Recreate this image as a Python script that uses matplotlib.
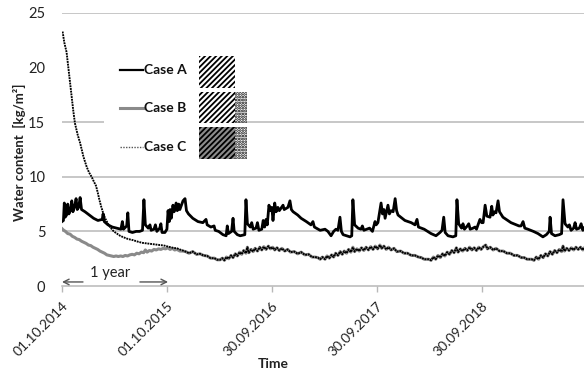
import matplotlib
matplotlib.use("Agg")
import matplotlib.pyplot as plt
from matplotlib.patches import Rectangle
from matplotlib.lines import Line2D
import datetime as dt

plt.rcParams['font.family'] = ['Lato', 'DejaVu Sans']
plt.rcParams['hatch.linewidth'] = 1.3

start_date = dt.date(2014, 10, 1)

# ---- Case A (days since 01.10.2014, water content kg/m2)
a_days = [0, 5, 8, 11, 16, 20, 24, 30, 34, 38, 44, 49, 53, 58, 63, 68, 80, 95, 110, 125, 140, 143, 147,
          160, 175, 190, 205, 210, 214, 225, 229, 233, 245, 258, 270, 280, 285, 290, 300, 306, 310, 320,
          325, 330, 340, 344, 348, 358, 365,
          369, 373, 376, 380, 386, 390, 397, 401, 406, 410, 414, 421, 428, 433, 440, 455, 473, 490, 501,
          505, 518, 529, 533, 545, 560, 571, 575, 579, 590, 595, 599, 610, 620, 636, 640, 645, 655, 660,
          665, 675, 680, 685, 695, 700, 705, 710, 714, 720, 725, 730,
          734, 740, 745, 751, 756, 769, 773, 786, 793, 798, 804, 820, 832, 850, 866, 873, 878, 898, 915,
          925, 936, 945, 953, 960, 967, 972, 978, 990, 1002, 1008, 1012, 1018, 1030, 1040, 1045, 1050,
          1060, 1070, 1080, 1089, 1093,
          1099, 1110, 1115, 1120, 1124, 1134, 1139, 1145, 1152, 1159, 1164, 1169, 1193, 1215, 1228, 1235,
          1240, 1260, 1284, 1301, 1315, 1322, 1328, 1333, 1343, 1360, 1370, 1374, 1380, 1390, 1395, 1400,
          1410, 1415, 1420, 1430, 1437, 1442, 1454, 1460,
          1465, 1472, 1478, 1489, 1495, 1499, 1505, 1510, 1517, 1522, 1534, 1562, 1590, 1597, 1604, 1610,
          1621, 1640, 1656, 1673, 1685, 1695, 1698, 1703, 1715, 1730, 1738, 1743, 1750, 1760, 1765, 1771,
          1780, 1785, 1790, 1800, 1806, 1812, 1816]
a_vals = [5.9, 6.0, 7.6, 6.3, 6.5, 7.5, 6.6, 7.0, 7.8, 6.8, 7.3, 8.0, 7.0, 7.2, 8.1, 7.0, 6.8, 6.5, 6.2, 6.0, 6.1, 6.6, 5.9,
          5.6, 5.4, 5.3, 5.2, 5.9, 5.2, 5.5, 6.7, 5.0, 4.9, 5.0, 5.0, 5.1, 7.9, 5.6, 5.3, 5.6, 5.1, 5.2,
          5.6, 5.0, 5.3, 5.7, 4.9, 4.9, 5.2,
          6.9, 5.9, 7.0, 6.2, 7.4, 6.8, 7.6, 6.9, 7.5, 7.0, 7.3, 7.8, 8.0, 6.9, 6.6, 6.2, 5.9, 5.8, 6.1,
          5.6, 5.4, 5.5, 5.1, 5.0, 4.7, 4.6, 5.5, 4.8, 5.0, 6.2, 5.0, 4.7, 4.6, 4.7, 7.9, 5.7, 5.4, 5.8,
          5.2, 5.3, 5.8, 5.1, 5.2, 6.0, 5.4, 6.1, 5.6, 7.4, 6.9, 7.2,
          6.0, 7.6, 6.8, 7.2, 6.9, 7.4, 7.0, 7.2, 7.8, 7.0, 6.8, 6.5, 6.2, 5.9, 5.6, 5.9, 5.4, 5.1, 5.2,
          5.0, 4.6, 5.0, 5.2, 5.1, 6.3, 5.0, 4.7, 4.6, 4.5, 4.6, 7.9, 5.6, 5.3, 5.2, 5.5, 5.1,
          5.2, 5.3, 5.0, 5.9, 5.6,
          5.8, 7.6, 6.6, 7.0, 6.2, 7.4, 6.6, 6.9, 6.8, 8.0, 6.9, 6.5, 6.0, 5.8, 5.6, 6.1,
          5.4, 5.2, 4.8, 4.6, 4.9, 5.1, 6.3, 4.9, 4.6, 4.5, 4.6, 7.9, 5.7, 5.3, 5.7, 5.2,
          5.5, 5.7, 5.2, 5.3, 5.4, 5.2, 6.1, 5.8,
          5.8, 7.4, 6.4, 6.3, 7.3, 6.5, 6.8, 6.7, 7.8, 6.8, 6.3, 5.8, 5.5, 5.5, 5.9, 5.3,
          5.2, 5.0, 4.8, 4.5, 4.7, 5.0, 6.3, 4.8, 4.6, 4.7, 4.8, 7.9, 5.7, 5.4, 5.6, 5.1,
          5.3, 5.8, 5.2, 5.3, 5.7, 5.1, 5.3]

# ---- Case B, first year (before it joins Case C)
b_early_days = [0, 6, 12, 20, 28, 36, 44, 52, 60, 68, 76, 84, 92, 100, 108, 116, 124, 132, 140, 148, 156,
                164, 172, 180, 188, 196, 204, 212, 220, 228, 236, 244, 252, 260, 268, 276, 284, 290, 296,
                304, 312, 320, 328, 336, 344, 352, 360, 368, 376, 384, 392, 400, 410, 420]
b_early_vals = [5.25, 5.1, 5.0, 4.8, 4.75, 4.55, 4.45, 4.3, 4.25, 4.1, 4.0, 3.9, 3.75, 3.7, 3.55, 3.45, 3.35,
                3.2, 3.1, 3.0, 2.85, 2.8, 2.75, 2.7, 2.75, 2.7, 2.75, 2.7, 2.8, 2.75, 2.85, 2.9, 2.85, 3.0,
                2.95, 3.1, 3.05, 3.3, 3.1, 3.25, 3.2, 3.35, 3.3, 3.4, 3.35, 3.45, 3.4, 3.5, 3.35, 3.45, 3.3,
                3.35, 3.2, 3.2]

# ---- Case C, drying phase
c_early_days = [2, 8, 16, 28, 39, 45, 55, 63, 75, 86, 94, 103, 112, 118, 124, 130, 136, 143, 150, 158, 167,
                180, 202, 215, 230, 247, 265, 280, 296, 312, 326, 341, 356, 370, 386, 400, 415]
c_early_vals = [23.3, 22.3, 21.4, 18.6, 16.1, 14.9, 13.8, 13.1, 11.8, 10.9, 10.4, 10.0, 9.5, 9.2, 8.6, 7.9,
                7.3, 6.7, 6.2, 5.8, 5.4, 5.0, 4.6, 4.45, 4.3, 4.2, 4.05, 3.95, 3.9, 3.85, 3.8, 3.75, 3.7,
                3.6, 3.5, 3.45, 3.3]

# ---- Cases B and C after they coincide
bc_days = [430, 442, 455, 468, 480, 492, 505, 517, 530, 540, 550, 558, 565, 572, 580, 588, 595, 603, 610,
           618, 625, 632, 640, 645, 650, 658, 665, 672, 680, 688, 695, 702, 710, 718, 725, 733, 740, 748,
           756, 765, 775, 785, 795, 808, 820, 832, 845, 858, 870, 880, 890, 898, 906, 915, 922, 930, 938,
           945, 952, 960, 968, 975, 982, 990, 997, 1005, 1012, 1018, 1026, 1034, 1042, 1050, 1058, 1066,
           1074, 1082, 1090, 1098, 1106, 1112, 1120, 1128, 1136, 1145, 1155, 1165, 1178, 1190, 1202, 1215,
           1228, 1240, 1250, 1260, 1268, 1276, 1284, 1292, 1300, 1308, 1316, 1324, 1332, 1340, 1348, 1356,
           1364, 1372, 1378, 1386, 1394, 1402, 1410, 1418, 1426, 1434, 1442, 1450, 1458, 1466, 1474, 1480,
           1490, 1500, 1510, 1522, 1535, 1548, 1560, 1572, 1585, 1598, 1608, 1618, 1626, 1634, 1642, 1650,
           1658, 1666, 1674, 1682, 1690, 1698, 1706, 1714, 1722, 1730, 1738, 1743, 1748, 1756, 1764, 1772,
           1780, 1788, 1796, 1804, 1812, 1816]
bc_vals = [3.15, 3.0, 3.15, 2.9, 2.95, 2.8, 2.75, 2.55, 2.55, 2.4, 2.4, 2.55, 2.35, 2.65, 2.5, 2.8, 2.6,
           2.95, 2.75, 3.1, 2.9, 3.25, 3.0, 3.55, 3.05, 3.35, 3.15, 3.45, 3.2, 3.55, 3.3, 3.6, 3.35, 3.65, 3.4,
           3.55, 3.3, 3.5, 3.25, 3.45, 3.2, 3.35, 3.1, 3.15, 2.95, 3.1, 2.85, 2.9, 2.65, 2.65, 2.6, 2.45, 2.65,
           2.45, 2.75, 2.55, 2.85, 2.65, 3.0, 2.8, 3.15, 2.9, 3.2, 3.0, 3.35, 3.1, 3.55, 3.15, 3.4, 3.2, 3.5,
           3.25, 3.55, 3.3, 3.6, 3.35, 3.65, 3.4, 3.75, 3.45, 3.65, 3.35, 3.55, 3.3, 3.45, 3.15, 3.2, 3.0, 3.0,
           2.8, 2.8, 2.65, 2.6, 2.45, 2.45, 2.45, 2.35, 2.65, 2.45, 2.8, 2.6, 2.95, 2.75, 3.1, 2.9, 3.25, 3.05,
           3.5, 3.1, 3.4, 3.2, 3.45, 3.25, 3.55, 3.3, 3.5, 3.25, 3.55, 3.35, 3.6, 3.75, 3.4, 3.55, 3.3,
           3.45, 3.2, 3.2, 3.0, 3.0, 2.8, 2.8, 2.6, 2.6, 2.45, 2.45, 2.45, 2.35, 2.65, 2.45, 2.8, 2.6,
           2.95, 2.75, 3.15, 2.9, 3.25, 3.05, 3.35, 3.15, 3.65, 3.2, 3.45, 3.25, 3.5, 3.3, 3.55, 3.35, 3.55, 3.3,
           3.45]

b_days = b_early_days + bc_days
b_vals = b_early_vals + bc_vals
c_days = c_early_days + bc_days
c_vals = c_early_vals + bc_vals

tick_labels = ["01.10.2014", "01.10.2015", "30.09.2016", "30.09.2017", "30.09.2018"]
tick_days = [0, 365, 730, 1095, 1460]
y_ticks = [0, 5, 10, 15, 20, 25]
grid_levels = [5, 10, 15, 25]
legend_labels = ["Case A", "Case B", "Case C"]


def to_dates(days):
    return [start_date + dt.timedelta(days=d) for d in days]


W, H = 584, 373
fig = plt.figure(figsize=(W / 100, H / 100), dpi=100)


def fx(px):
    return px / W


def fy(py):
    return 1 - py / H


ax = fig.add_axes([fx(62), fy(286), fx(584) - fx(62), fy(13) - fy(286)])

grid_col = '#b8b8b8'
for g in grid_levels:
    ax.axhline(g, color=grid_col, lw=1.1, zorder=0)

ax.plot(to_dates(b_days), b_vals, color='#8a8a8a', lw=2.2, zorder=2)
ax.plot(to_dates(c_days), c_vals, color='#000000', lw=1.35, ls=(0, (1.0, 0.45)), zorder=3)
ax.plot(to_dates(a_days), a_vals, color='black', lw=2.0, zorder=4)

ax.set_ylim(0, 25)
ax.set_xlim(start_date, start_date + dt.timedelta(days=1816))
ax.set_yticks(y_ticks)
ax.set_yticklabels([str(v) for v in y_ticks])
ax.set_xticks(to_dates(tick_days))
ax.set_xticklabels(tick_labels, rotation=45, ha='right', va='top', rotation_mode='anchor')
for s in ['top', 'right', 'left']:
    ax.spines[s].set_visible(False)
ax.spines['bottom'].set_color(grid_col)
ax.spines['bottom'].set_linewidth(1.1)
ax.tick_params(axis='y', length=0, pad=12, labelsize=10.5, labelcolor='#222222')
ax.tick_params(axis='x', length=4, width=1, color=grid_col, pad=6, labelsize=10, labelcolor='#222222')

# "1 year" annotation
ax.annotate('', xy=(start_date, 0.37), xytext=(start_date + dt.timedelta(days=73), 0.37),
            arrowprops=dict(arrowstyle='->', color='#555555', lw=1.0, shrinkA=0, shrinkB=0))
ax.annotate('', xy=(start_date + dt.timedelta(days=369), 0.37),
            xytext=(start_date + dt.timedelta(days=271), 0.37),
            arrowprops=dict(arrowstyle='->', color='#555555', lw=1.0, shrinkA=0, shrinkB=0))
ax.text(start_date + dt.timedelta(days=167), 1.2, '1 year', ha='center', va='center',
        fontsize=10.5, color='#222222')

# axis titles
fig.text(fx(19), fy(152), 'Water content  [kg/m²]', rotation=90, ha='center', va='center',
         fontsize=9.5, fontweight='bold', color='#222222')
fig.text(fx(273), fy(364), 'Time', ha='center', va='center', fontsize=10, fontweight='bold',
         color='#222222')

# legend panel
fig.add_artist(Rectangle((fx(104), fy(166)), fx(247) - fx(104), fy(50) - fy(166),
                         transform=fig.transFigure, facecolor='white', edgecolor='none', zorder=5))
leg_y = [70, 108, 147]
leg_styles = [dict(color='black', lw=1.6), dict(color='#8a8a8a', lw=2.2),
              dict(color='#555555', lw=1.0, ls=(0, (1, 1)))]
for lab, py, st in zip(legend_labels, leg_y, leg_styles):
    fig.add_artist(Line2D([fx(120), fx(143)], [fy(py), fy(py)], transform=fig.transFigure,
                          zorder=6, **st))
    fig.text(fx(144), fy(py), lab, ha='left', va='center', fontsize=10, fontweight='bold',
             color='#111111', zorder=6)

boxes = [
    (199, 56, 235, 88, 'white', '//////'),
    (199, 92, 235, 123, 'white', '//////'),
    (235, 92, 247, 123, 'white', '......'),
    (199, 127, 235, 159, '#8c8c8c', '//////'),
    (235, 127, 247, 159, 'white', '......'),
]
for x0, y0, x1, y1, fc, hatch in boxes:
    fig.add_artist(Rectangle((fx(x0), fy(y1)), fx(x1) - fx(x0), fy(y0) - fy(y1),
                             transform=fig.transFigure, facecolor=fc, edgecolor='black',
                             hatch=hatch, lw=0, zorder=6))

fig.savefig('out.png', dpi=100)
